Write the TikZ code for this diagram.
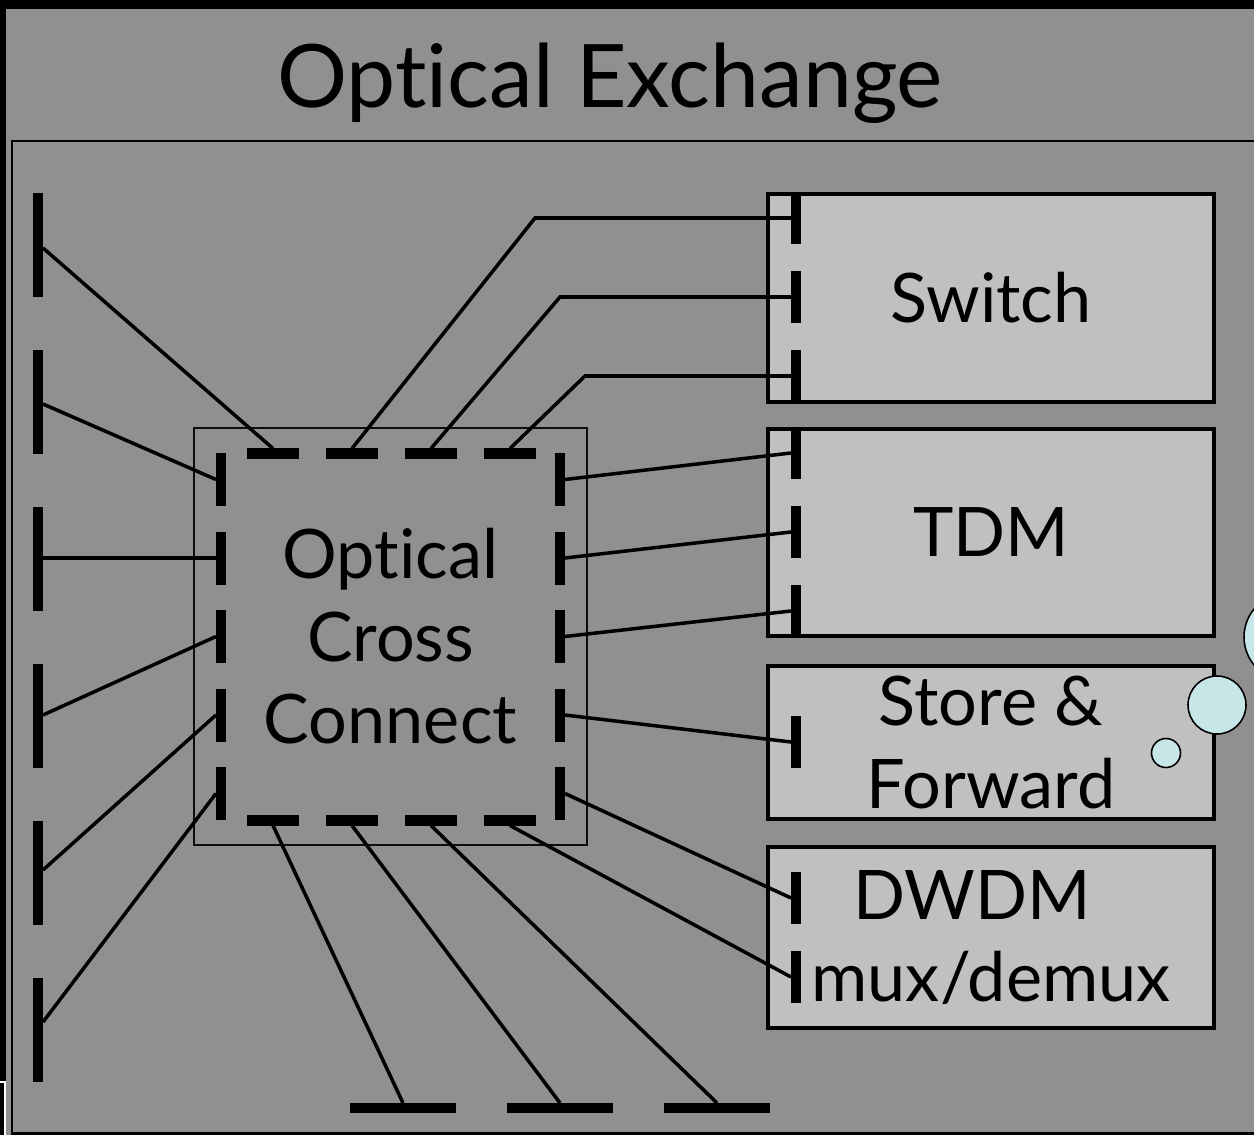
\documentclass[tikz,border=0pt]{standalone}
\usepackage{fontspec}
\setmainfont[Ligatures=NoCommon]{Lato}
\definecolor{slidegray}{RGB}{144,144,144}
\definecolor{boxgray}{RGB}{192,192,192}
\definecolor{bubble}{RGB}{198,230,232}
\tikzset{
  unit/.style={draw, line width=2.3pt, fill=boxgray, inner sep=0pt,
    minimum width=8.92cm, align=center, font=\fontsize{38.9}{47}\selectfont},
  link/.style={line width=2pt},
  port/.style={line width=5.7pt},
  bubbledot/.style={draw, line width=0.9pt, fill=bubble},
}
\begin{document}
\begin{tikzpicture}[x=0.02cm, y=-0.02cm]
  \clip (0,0) rectangle (1254,1135);
  \fill[black] (0,0) rectangle (1254,1135);
  \fill[slidegray] (6,9) rectangle (1254,1135);
  \draw[white, line width=0.6pt] (-5,1082) rectangle (5,1140);

  \node[anchor=base, font=\fontsize{49.9}{60}\selectfont] (title) at (610,108) {Optical Exchange};
  \draw[line width=1.7pt] (12,141) rectangle (1290,1133);

  % boxes on the right
  \node[unit, minimum height=4.16cm] (switch) at (991,298) {Switch};
  \node[unit, minimum height=4.14cm] (tdm) at (991,532.5) {TDM};
  \node[unit, minimum height=3.06cm] (store) at (991,742.5) {Store \&\\Forward};
  \node[unit, minimum height=3.62cm] (dwdm) at (991,937.5) {\mbox{DWDM\hspace{0.55em}}\\mux/demux};

  % cross connect
  \node[draw=black!95, line width=1.6pt, minimum width=7.86cm, minimum height=8.34cm,
    inner sep=0pt, align=center, font=\fontsize{38.9}{47}\selectfont] (oxc) at (390.5,636.5)
    {Optical\\Cross\\Connect};

  % ports of the cross connect
  \foreach \i in {1,...,5} {
    \pgfmathsetmacro\ya{453+78.5*(\i-1)}
    \draw[port] (221,\ya) -- (221,\ya+53);
    \draw[port] (560,\ya) -- (560,\ya+53);
    \coordinate (oxl\i) at (216,\ya+26.5);
    \coordinate (oxr\i) at (565,\ya+26.5);
  }
  \foreach \i in {1,...,4} {
    \pgfmathsetmacro\xa{247+79*(\i-1)}
    \draw[port] (\xa,453.5) -- (\xa+52,453.5);
    \draw[port] (\xa,820.5) -- (\xa+52,820.5);
    \coordinate (oxt\i) at (\xa+26,448.5);
    \coordinate (oxb\i) at (\xa+26,825.5);
  }

  % fibres coming in on the left and leaving at the bottom
  \foreach \y/\c [count=\i] in {193/248, 350/404, 507/558, 664/715, 821/870, 978/1022} {
    \draw[port] (38,\y) -- (38,\y+104);
    \coordinate (in\i) at (43,\c);
  }
  \foreach \x [count=\i] in {350,507,664} {
    \draw[port] (\x,1108) -- (\x+106,1108);
    \coordinate (out\i) at (\x+53,1103);
  }

  % ports of the boxes
  \foreach \y [count=\i] in {218,297,376} {
    \draw[port] (796,\y-26) -- (796,\y+26);
    \coordinate (sw\i) at (791,\y);
  }
  \foreach \y [count=\i] in {453,532,611} {
    \draw[port] (796,\y-26) -- (796,\y+26);
    \coordinate (td\i) at (791,\y);
  }
  \draw[port] (796,716) -- (796,768);
  \coordinate (sf1) at (791,742);
  \foreach \y [count=\i] in {898,977} {
    \draw[port] (796,\y-26) -- (796,\y+26);
    \coordinate (dw\i) at (791,\y);
  }

  % bends of the switch links
  \coordinate (bend1) at (535,218);
  \coordinate (bend2) at (560,297);
  \coordinate (bend3) at (585,376);

  \draw[link] (in1) -- (oxt1);
  \draw[link] (in2) -- (oxl1);
  \draw[link] (in3) -- (oxl2);
  \draw[link] (in4) -- (oxl3);
  \draw[link] (in5) -- (oxl4);
  \draw[link] (in6) -- (oxl5);
  \draw[link] (oxt2) -- (bend1) -- (sw1);
  \draw[link] (oxt3) -- (bend2) -- (sw2);
  \draw[link] (oxt4) -- (bend3) -- (sw3);
  \draw[link] (oxr1) -- (td1);
  \draw[link] (oxr2) -- (td2);
  \draw[link] (oxr3) -- (td3);
  \draw[link] (oxr4) -- (sf1);
  \draw[link] (oxr5) -- (dw1);
  \draw[link] (oxb4) -- (dw2);
  \draw[link] (oxb1) -- (out1);
  \draw[link] (oxb2) -- (out2);
  \draw[link] (oxb3) -- (out3);

  % thought bubbles
  \draw[bubbledot] (1166,753) circle (14.5);
  \draw[bubbledot] (1217,705) circle (29);
  \draw[bubbledot] (1288,637) circle (44);
\end{tikzpicture}
\end{document}
